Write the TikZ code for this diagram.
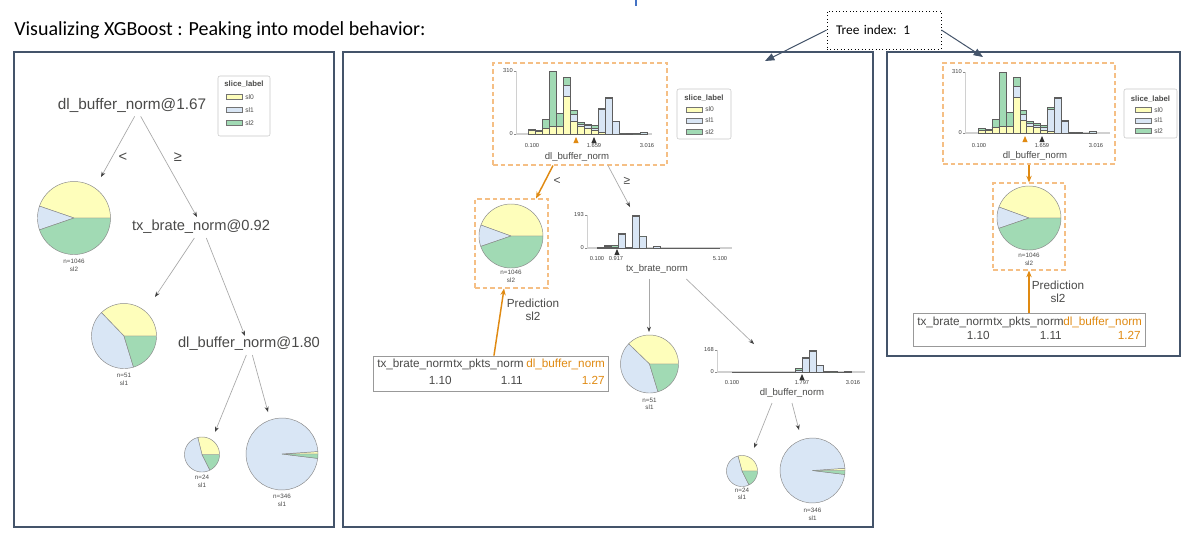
\documentclass[tikz,border=0pt]{standalone}
\usepackage{fontspec}
\setmainfont{Liberation Sans}
\newfontfamily\calib{Carlito}
\usetikzlibrary{arrows.meta}
\definecolor{panelc}{HTML}{44546A}
\definecolor{tcol}{HTML}{4A4A49}
\definecolor{hl}{HTML}{E08A12}
\definecolor{hlbox}{HTML}{F5BF85}
\definecolor{pY}{HTML}{FEFEBB}
\definecolor{pB}{HTML}{D9E6F5}
\definecolor{pG}{HTML}{A1DAB4}
\definecolor{edgec}{HTML}{8A8A8A}
\definecolor{baredge}{HTML}{5E5E5E}
\definecolor{arrc}{HTML}{A8A8A8}
\definecolor{axc}{HTML}{D0D0D0}
\definecolor{tickblue}{HTML}{4472C4}

\newcommand\pslice[6]{\filldraw[fill=#6, draw=edgec, line width=0.35pt, line join=round] (#1,#2) -- plot[domain=#4:#5, samples=40, variable=\q] ({#1+#3*cos(\q)},{#2-#3*sin(\q)}) -- cycle;}
\newcommand\piech[6]{%
 \node[circle, inner sep=0pt, minimum size={#4*1.5pt}] (#1) at (#2,#3) {};
 \pslice{#2}{#3}{#4}{0}{#5}{pY}
 \pslice{#2}{#3}{#4}{#5}{#6}{pB}
 \pslice{#2}{#3}{#4}{#6}{360}{pG}}
\newcommand\hbars[5]{%
 \foreach \ya/\yb/\yc [count=\i from 0] in {#5} {
  \filldraw[fill=pY, draw=baredge, line width=0.3pt] ({#1+\i*#2},#3) rectangle ({#1+(\i+1)*#2},{#3-\ya*#4});
  \filldraw[fill=pB, draw=baredge, line width=0.3pt] ({#1+\i*#2},{#3-\ya*#4}) rectangle ({#1+(\i+1)*#2},{#3-\yb*#4});
  \filldraw[fill=pG, draw=baredge, line width=0.3pt] ({#1+\i*#2},{#3-\yb*#4}) rectangle ({#1+(\i+1)*#2},{#3-\yc*#4});
 }}
\newcommand\haxis[7]{% name, xaxis, ytop, ybase, xend, toplabel
 \draw[draw=axc, line width=0.5pt] (#2,#3) -- (#2,#4);
 \draw[draw=axc, line width=1pt] (#2,#4) -- (#5,#4);
 \draw[draw=black!45, line width=0.3pt] ({#2-2},#3) -- (#2,#3) ({#2-2},#4) -- (#2,#4);
 \node[tck, anchor=east] (#1top) at ({#2-3},#3) {#6};
 \node[tck, anchor=east] (#1zero) at ({#2-3},#4) {#7};}
\newcommand\tri[3]{\fill[#3] (#1,{#2-3}) -- ({#1-2.6},{#2+3}) -- ({#1+2.6},{#2+3}) -- cycle;}
\newcommand\slegend[8]{%
 \draw[draw=black!22, line width=0.4pt, rounded corners=1.5pt] (#2,#3) rectangle (#4,#5);
 \node[legt] (#1t) at ({(#2+#4)/2},#6) {slice\_label};
 \filldraw[fill=pY, draw=black!55, line width=0.3pt] (#8,{#6+#7-2.5}) rectangle ({#8+16},{#6+#7+2.5});
 \node[legs, anchor=west] (#1a) at ({#8+19},{#6+#7}) {sl0};
 \filldraw[fill=pB, draw=black!55, line width=0.3pt] (#8,{#6+2*#7-2.5}) rectangle ({#8+16},{#6+2*#7+2.5});
 \node[legs, anchor=west] (#1b) at ({#8+19},{#6+2*#7}) {sl1};
 \filldraw[fill=pG, draw=black!55, line width=0.3pt] (#8,{#6+3*#7-2.5}) rectangle ({#8+16},{#6+3*#7+2.5});
 \node[legs, anchor=west] (#1c) at ({#8+19},{#6+3*#7}) {sl2};}

\tikzset{
 every node/.style={inner sep=0pt, text=tcol},
 lbl/.style={font=\fontsize{11}{12}\selectfont},
 cmp/.style={font=\fontsize{9}{10}\selectfont},
 xlab/.style={font=\fontsize{7.2}{8}\selectfont},
 tck/.style={font=\fontsize{4.3}{5}\selectfont, text=black!75},
 pietxt/.style={font=\fontsize{4.7}{5}\selectfont},
 legt/.style={font=\bfseries\fontsize{5.8}{6}\selectfont},
 legs/.style={font=\fontsize{5}{6}\selectfont},
 tbl/.style={font=\fontsize{8.8}{10}\selectfont},
 panel/.style={draw=panelc, line width=0.8pt},
 hlframe/.style={draw=hlbox, line width=0.8pt, dash pattern=on 3.5pt off 2.2pt},
 tblframe/.style={draw=black!40, line width=0.6pt},
 treearr/.style={draw=arrc, line width=0.5pt, -{Stealth[length=4pt, width=3pt, color=black!75]}},
 orarr/.style={draw=hl, line width=1.1pt, -{Stealth[length=5pt, width=4pt]}},
 idxarr/.style={draw=panelc, line width=0.75pt, -{Triangle[length=7pt, width=5.5pt]}},
}

\begin{document}
\begin{tikzpicture}[x=0.75pt, y=-0.75pt]
\useasboundingbox (0,0) rectangle (1183,537);
\fill[white] (0,0) rectangle (1183,537);

% title and top mark
\node[font=\calib\fontsize{15}{17}\selectfont, anchor=west, text=black] (title) at (14,30) {Visualizing XGBoost : Peaking into model behavior:};
\draw[draw=tickblue, line width=1.5pt] (636,0) -- (636,6);

% panels
\draw[panel] (14,52) rectangle (334,527);
\draw[panel] (343,52) rectangle (873,527);
\draw[panel] (887,52) rectangle (1180,356);

% tree index box
\node[draw=black, dotted, line width=0.6pt, minimum width=85.5pt, minimum height=28.5pt, text width=72pt, inner xsep=6.75pt, align=left, font=\calib\fontsize{10}{12}\selectfont, text=black] (tidx) at (884,30) {Tree index: 1};
\coordinate (idxL) at (765,61);
\coordinate (idxR) at (983,57);
\draw[idxarr] (tidx.west) -- (idxL);
\draw[idxarr] (tidx.east) -- (idxR);

% ================= LEFT PANEL =================
\slegend{legL}{218}{76}{270}{136}{84}{13}{226}
\node[lbl, font=\fontsize{11.5}{12}\selectfont] (r1) at (132,105) {dl\_buffer\_norm@1.67};
\node[cmp, font=\fontsize{11}{12}\selectfont] (r1lt) at (123,157) {<};
\node[cmp, font=\fontsize{11}{12}\selectfont] (r1ge) at (178,157) {≥};
\piech{L1}{74}{218}{36.5}{161}{199}
\node[pietxt] (L1n) at (74,261.5) {n=1046};
\node[pietxt] (L1c) at (74,269.5) {sl2};
\node[lbl] (r2) at (201,227) {tx\_brate\_norm@0.92};
\piech{L2}{124}{336}{32.5}{134}{287}
\node[pietxt] (L2n) at (124,375) {n=51};
\node[pietxt] (L2c) at (124,383) {sl1};
\node[lbl] (r3) at (249,344) {dl\_buffer\_norm@1.80};
\piech{L3}{202}{454.5}{17.5}{104}{297}
\node[pietxt] (L3n) at (202,477) {n=24};
\node[pietxt] (L3c) at (202,485) {sl1};
\piech{L4}{282}{454}{36}{4}{353}
\node[pietxt] (L4n) at (282,496) {n=346};
\node[pietxt] (L4c) at (282,504) {sl1};
\coordinate (aL1) at (101,177);
\coordinate (aL2) at (197,217);
\coordinate (aL3) at (155,297);
\coordinate (aL4) at (245,336);
\coordinate (aL5) at (215,432);
\coordinate (aL6) at (268,412);
\draw[treearr] ([xshift=2pt,yshift=-3pt]r1.south) -- (aL1);
\draw[treearr] ([xshift=6.5pt,yshift=-3pt]r1.south) -- (aL2);
\draw[treearr] ([xshift=-5pt,yshift=-3pt]r2.south) -- (aL3);
\draw[treearr] ([xshift=4pt,yshift=-3pt]r2.south) -- (aL4);
\draw[treearr] ([xshift=-2pt,yshift=-3pt]r3.south) -- (aL5);
\draw[treearr] ([xshift=2.5pt,yshift=-3pt]r3.south) -- (aL6);

% ================= MIDDLE PANEL =================
\node[hlframe, minimum width=130.5pt, minimum height=76.5pt] (hb1) at (580,114) {};
\haxis{hA}{516}{71}{134}{652}{310}{0}
\hbars{528}{7}{134}{63}{.054/.054/.081, .043/.043/.065, .097/.097/.232, .119/.119/1, .119/.119/.335, .595/.768/.908, .205/.314/.378, .119/.162/.189, .097/.135/.162, .054/.097/.135, .027/.395/.416, 0/.563/.584, 0/.2/.205, 0/.016/.016, 0/.011/.011, 0/.005/.005, 0/.022/.022}
\tri{576}{140}{hl}
\tri{594}{140}{black!80}
\node[tck] (hAt1) at (532,146) {0.100};
\node[tck] (hAt2) at (594,146) {1.659};
\node[tck] (hAt3) at (647,146) {3.016};
\node[xlab] (hAx) at (577,157) {dl\_buffer\_norm};
\slegend{legM}{677}{89}{731}{139}{98}{11.3}{686}

\node[cmp] (mlt) at (557,181) {<};
\node[cmp] (mge) at (627,181) {≥};

\node[hlframe, minimum width=54.75pt, minimum height=66.75pt] (pb1) at (511.5,243.5) {};
\piech{M1}{511}{236}{32}{160}{199}
\node[pietxt] (M1n) at (511,272.5) {n=1046};
\node[pietxt] (M1c) at (511,280) {sl2};
\draw[orarr] ([xshift=-20.25pt]hb1.south) -- ([xshift=18.4pt]pb1.north);
\coordinate (aM1) at (630,207);
\draw[treearr] ([xshift=21pt]hb1.south) -- (aM1);

\node[tbl] (pred1) at (533,303) {Prediction};
\node[tbl] (pred1c) at (533,316) {sl2};
\node[tblframe, minimum width=176.25pt, minimum height=26.25pt] (tb1) at (490.5,373.5) {};
\node[tbl, anchor=west] (tb1a) at (377,364) {tx\_brate\_norm};
\node[tbl, anchor=west] (tb1b) at (453,364) {tx\_pkts\_norm};
\node[tbl, anchor=west, text=hl] (tb1c) at (526,364) {dl\_buffer\_norm};
\node[tbl, anchor=east] (tb1d) at (452,380) {1.10};
\node[tbl, anchor=east] (tb1e) at (523,380) {1.11};
\node[tbl, anchor=east, text=hl] (tb1f) at (605,380) {1.27};
\draw[orarr] ([xshift=2.6pt]tb1.north) -- ([xshift=-5.6pt]pb1.south);

% tx_brate histogram
\haxis{hB}{587}{215}{248}{732}{193}{0}
\draw[draw=baredge, line width=0.4pt] (661,248) -- (720,248);
\hbars{597}{7}{248}{33}{0/.01/.03, .01/.05/.10, .01/.03/.08, 0/.42/.45, 0/0/.02, 0/.97/1, 0/.37/.37, 0/0/0, 0/.06/.06}
\tri{617}{252}{black!80}
\node[tck] (hBt1) at (597,259) {0.100};
\node[tck] (hBt2) at (616,259) {0.917};
\node[tck] (hBt3) at (720,259) {5.100};
\node[xlab] (hBx) at (657,269) {tx\_brate\_norm};
\piech{M2}{649.5}{364}{29}{136}{287}
\node[pietxt] (M2n) at (649.5,400) {n=51};
\node[pietxt] (M2c) at (649.5,407.5) {sl1};
\coordinate (aM2) at (649,332);
\coordinate (aM3) at (754,344);
\draw[treearr] ([xshift=-6pt,yshift=-4pt]hBx.south) -- (aM2);
\draw[treearr] ([xshift=22pt,yshift=-4pt]hBx.south) -- (aM3);

% lower dl_buffer histogram
\haxis{hC}{717}{350}{372}{865}{168}{0}
\draw[draw=baredge, line width=0.4pt] (732,372) -- (795,372);
\hbars{795}{7}{372}{22}{0/.10/.16, 0/.62/.66, 0/.96/1, 0/.33/.33, 0/.04/.04, 0/.02/.02, 0/.01/.01, 0/.03/.03}
\tri{802}{377}{black!80}
\node[tck] (hCt1) at (732,383) {0.100};
\node[tck] (hCt2) at (802,383) {1.797};
\node[tck] (hCt3) at (853,383) {3.016};
\node[xlab] (hCx) at (792,393) {dl\_buffer\_norm};
\piech{M3}{742}{471}{15.5}{105}{297}
\node[pietxt] (M3n) at (742,490) {n=24};
\node[pietxt] (M3c) at (742,497) {sl1};
\piech{M4}{812.5}{470.5}{32.5}{4}{353}
\node[pietxt] (M4n) at (812.5,510) {n=346};
\node[pietxt] (M4c) at (812.5,518) {sl1};
\coordinate (aM4) at (754,448);
\coordinate (aM5) at (799,430);
\draw[treearr] ([xshift=-15pt,yshift=-4pt]hCx.south) -- (aM4);
\draw[treearr] ([xshift=0pt,yshift=-4pt]hCx.south) -- (aM5);

% ================= RIGHT PANEL =================
\node[hlframe, minimum width=129pt, minimum height=75.75pt] (hb2) at (1029,113.5) {};
\haxis{hD}{965}{72}{133}{1110}{310}{0}
\hbars{978}{6.95}{133}{61}{.054/.054/.081, .043/.043/.065, .097/.097/.232, .119/.119/1, .119/.119/.335, .595/.768/.908, .205/.314/.378, .119/.162/.189, .097/.135/.162, .054/.097/.135, .027/.395/.416, 0/.563/.584, 0/.2/.205, 0/.016/.016, 0/.011/.011, 0/.005/.005, 0/.022/.022}
\tri{1025}{139}{hl}
\tri{1042}{139}{black!80}
\node[tck] (hDt1) at (979,146) {0.100};
\node[tck] (hDt2) at (1042,146) {1.659};
\node[tck] (hDt3) at (1096,146) {3.016};
\node[xlab] (hDx) at (1035,156) {dl\_buffer\_norm};
\slegend{legR}{1124}{89}{1177}{138}{99}{10.7}{1135}

\node[hlframe, minimum width=54pt, minimum height=65.25pt] (pb2) at (1029,226.5) {};
\piech{R1}{1029}{218}{32}{160}{199}
\node[pietxt] (R1n) at (1029,255) {n=1046};
\node[pietxt] (R1c) at (1029,263) {sl2};
\draw[orarr] (hb2.south) -- (pb2.north);

\node[tbl] (pred2) at (1058,285) {Prediction};
\node[tbl] (pred2c) at (1058,298) {sl2};
\node[tblframe, minimum width=174pt, minimum height=24.75pt] (tb2) at (1029,329.5) {};
\node[tbl, anchor=west] (tb2a) at (917,322) {tx\_brate\_norm};
\node[tbl, anchor=west] (tb2b) at (993,322) {tx\_pkts\_norm};
\node[tbl, anchor=west, text=hl] (tb2c) at (1063,322) {dl\_buffer\_norm};
\node[tbl, anchor=east] (tb2d) at (990,335) {1.10};
\node[tbl, anchor=east] (tb2e) at (1062,335) {1.11};
\node[tbl, anchor=east, text=hl] (tb2f) at (1141,335) {1.27};
\draw[orarr] (tb2.north) -- (pb2.south);
\end{tikzpicture}
\end{document}
